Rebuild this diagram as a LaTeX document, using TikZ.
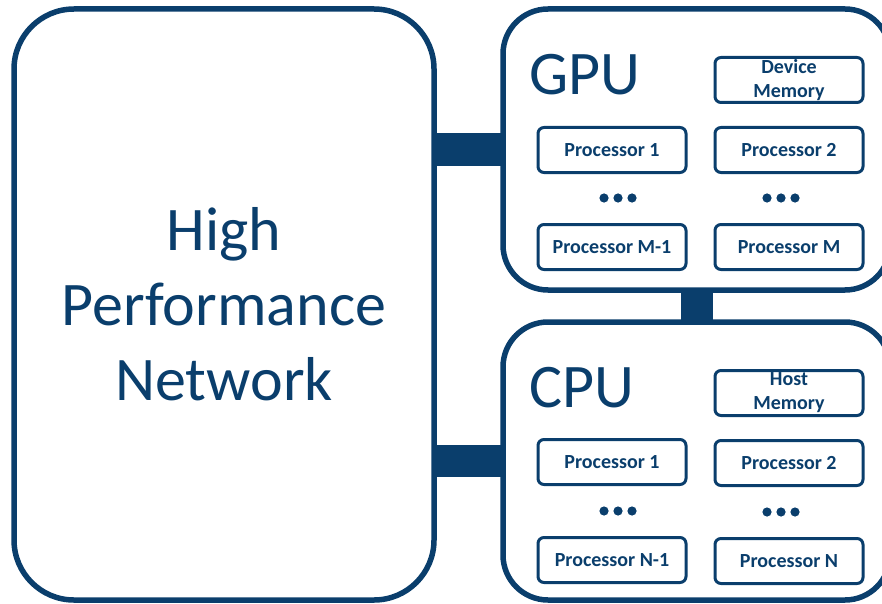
\documentclass[tikz,border=0pt]{standalone}
\usepackage{fontspec}
\setmainfont{Carlito}
\definecolor{navy}{RGB}{10,62,108}
\tikzset{
  bigbox/.style={draw=navy,line width=5.5pt,outer sep=0pt,inner sep=0pt},
  unitbox/.style={draw=navy,line width=3pt,rounded corners=6pt,minimum width=148pt,
    minimum height=45pt,inner sep=0pt,text=navy,font=\fontsize{20}{24}\selectfont\bfseries},
  biglabel/.style={text=navy,font=\fontsize{62}{75}\selectfont},
  link/.style={navy,line width=32pt},
}
\begin{document}
\begin{tikzpicture}[x=1pt,y=-1pt]
                \useasboundingbox (0,0) rectangle (882,604);
                \clip (0,0) rectangle (882,604);
                %% network
                \node[bigbox,biglabel,rounded corners=60pt,minimum width=420pt,minimum height=591pt,align=center] (net) at (224,304.5) {High\\Performance\\Network};
                %% GPU and CPU
                \node[bigbox,rounded corners=45pt,minimum width=387pt,minimum height=281pt] (gpu) at (696.5,149.5) {};
                \node[bigbox,rounded corners=45pt,minimum width=387pt,minimum height=278pt] (cpu) at (696.5,461) {};
                \node[biglabel,anchor=base west,inner sep=0pt] (gpulabel) at (529,95) {GPU};
                \node[biglabel,anchor=base west,inner sep=0pt] (cpulabel) at (529,407) {CPU};
                %% links
                \draw[link] (net.east |- gpu.west) -- (gpu.west);
                \draw[link] (net.east |- cpu.west) -- (cpu.west);
                \draw[link] (gpu.south) -- (cpu.north);
                %% GPU units
                \node[unitbox,align=center] (gmem) at (789,80) {Device\\Memory};
                \node[unitbox] (gp1) at (612,150) {Processor 1};
                \node[unitbox] (gp2) at (789,150) {Processor 2};
                \node[unitbox] (gpm1) at (612,247) {Processor M-1};
                \node[unitbox] (gpm) at (789,247) {Processor M};
                %% CPU units
                \node[unitbox,align=center] (hmem) at (789,393) {Host\\Memory};
                \node[unitbox] (cp1) at (612,462) {Processor 1};
                \node[unitbox] (cp2) at (789,463) {Processor 2};
                \node[unitbox] (cpn1) at (612,560) {Processor N-1};
                \node[unitbox] (cpn) at (789,561) {Processor N};
                %% dots
                \foreach \dx in {-14,0,14} {
                    \fill[navy] (618+\dx,198) circle (4.6);
                    \fill[navy] (781+\dx,198) circle (4.6);
                    \fill[navy] (618+\dx,511) circle (4.6);
                    \fill[navy] (781+\dx,512) circle (4.6);
                }
\end{tikzpicture}
\end{document}
